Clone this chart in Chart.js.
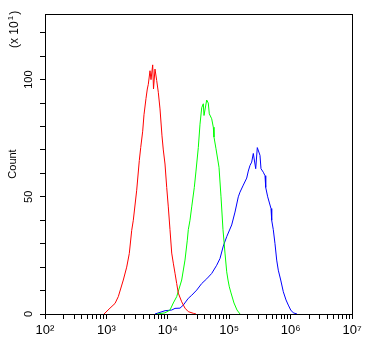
<!DOCTYPE html>
<html>
<head>
<meta charset="utf-8">
<script src="https://cdn.jsdelivr.net/npm/chart.js@4.4.0/dist/chart.umd.min.js"></script>
<style>
    html, body { margin: 0; padding: 0; background: #fff; }
    #chart-container { width: 372px; height: 344px; }
</style>
</head>
<body>
<div id="chart-container"><canvas id="myChart" width="372" height="344"></canvas></div>
<script>
// fluorescence intensity (x) and count in units of 10 (y)
const redX = [914, 1144, 1381, 1562, 1885, 2141, 2360, 2583, 2742, 3115, 3435, 3620, 3901, 4096, 4416, 4636, 4814, 5131, 5326, 5677, 5850, 6187, 6596, 7003, 7464, 8045, 8447, 9005, 9597, 10190, 10860, 11580, 12290, 13100, 13960, 14830, 16840, 19060, 21580, 26020, 28790];
const redY = [0, 2.5, 4.5, 7.4, 14.5, 20, 25.8, 35.7, 40, 52.8, 65.5, 71, 78, 85, 92, 96, 98, 103.8, 100, 106.3, 96, 104.5, 99.6, 94.6, 87.5, 76, 70, 64, 54, 45.7, 36, 26, 21.7, 17.4, 13, 8.9, 5.2, 2.5, 1, 0.3, 0];

const greenX = [6670, 9005, 10860, 12290, 13960, 16840, 19060, 20780, 21580, 22990, 24510, 27020, 28790, 31390, 33460, 35660, 37860, 38870, 43010, 45660, 47410, 51880, 55080, 56540, 60950, 68220, 73530, 79250, 85420, 91070, 95610, 100400, 107000, 119700, 134000, 149900];
const greenY = [0, 0.5, 1.7, 4.7, 7.4, 14.5, 23, 31.5, 36, 40, 45.7, 54, 61, 71, 81, 88, 89.7, 84.7, 91.3, 90, 85.4, 83.3, 79.7, 75.5, 70.5, 62.6, 50, 36, 26, 18, 14.5, 11.6, 9, 4.7, 1.7, 0];

const blueX = [6187, 9005, 11580, 13100, 15800, 17880, 21580, 24510, 29560, 35660, 43010, 51880, 62570, 70830, 80150, 91070, 109800, 124300, 140700, 149900, 169700, 192800, 204700, 218200, 232500, 246900, 270200, 286900, 317400, 329500, 359300, 383000, 393200, 423700, 479600, 492300, 522600, 557000, 593700, 630400, 690000, 760500, 841800, 917500, 1004000, 1107000, 1271000];
const blueY = [0, 1.4, 1.7, 2.4, 2.5, 3.8, 6.7, 8, 10.2, 13, 15, 17.3, 20.8, 23.7, 29, 33, 38, 43.5, 50, 52, 55, 58, 61, 63.4, 64.8, 68.5, 62, 71, 67.7, 62, 60.5, 59, 54, 50, 45, 40, 36, 30, 23, 18.7, 14.5, 9.5, 6, 3.8, 1.7, 0.5, 0];

const xMajorTicks = [1e2, 1e3, 1e4, 1e5, 1e6, 1e7];
const xTickLabels = ['10²', '10³', '10⁴', '10⁵', '10⁶', '10⁷'];
const yLabelledTicks = [0, 50, 100];

const fontFamily = '"Liberation Sans", Arial, sans-serif';

// every 1..9 x 10^n tick between the majors
const xAllTicks = [];
xMajorTicks.slice(0, -1).forEach(d => {
    for (let m = 1; m < 10; m++) xAllTicks.push(d * m);
});
xAllTicks.push(xMajorTicks[xMajorTicks.length - 1]);

function toPoints(xs, ys) {
    return xs.map((x, i) => ({ x: x, y: ys[i] }));
}

function makeSet(xs, ys, color) {
    return {
        data: toPoints(xs, ys),
        borderColor: color,
        borderWidth: 1,
        pointRadius: 0,
        showLine: true,
        tension: 0,
        fill: false
    };
}

// box round the plot and the (x10^1) multiplier note
const framePlugin = {
    id: 'frame',
    afterDraw(chart) {
        const { ctx, chartArea: a } = chart;
        ctx.save();
        ctx.strokeStyle = '#000';
        ctx.lineWidth = 1;
        ctx.strokeRect(Math.round(a.left) + 0.5, Math.round(a.top) + 0.5,
            Math.round(a.right - a.left), Math.round(a.bottom - a.top));

        ctx.translate(14, 48);
        ctx.rotate(-Math.PI / 2);
        ctx.fillStyle = '#000';
        ctx.textBaseline = 'middle';
        ctx.font = '12px ' + fontFamily;
        const base = '(x 10';
        ctx.fillText(base, 0, 1);
        let w = ctx.measureText(base).width;
        ctx.font = '8px ' + fontFamily;
        ctx.fillText('1', w + 1, -3);
        w += ctx.measureText('1').width + 2;
        ctx.font = '12px ' + fontFamily;
        ctx.fillText(')', w, 1);
        ctx.restore();
    }
};

const ctx = document.getElementById('myChart').getContext('2d');
const myChart = new Chart(ctx, {
    type: 'scatter',
    data: {
        datasets: [
            makeSet(redX, redY, '#ff0000'),
            makeSet(greenX, greenY, '#00ff00'),
            makeSet(blueX, blueY, '#0000ff')
        ]
    },
    options: {
        responsive: false,
        animation: false,
        layout: { padding: { top: 14, right: 20, left: 0, bottom: 0 } },
        plugins: { legend: { display: false }, tooltip: { enabled: false } },
        scales: {
            x: {
                type: 'logarithmic',
                min: 1e2,
                max: 1e7,
                afterBuildTicks: scale => {
                    scale.ticks = xAllTicks.map(v => ({ value: v }));
                },
                afterFit: scale => { scale.height = 30; },
                grid: { drawOnChartArea: false, tickLength: 5, color: '#000', tickColor: '#000' },
                border: { color: '#000' },
                ticks: {
                    autoSkip: false,
                    maxRotation: 0,
                    padding: 4,
                    color: '#000',
                    font: { family: fontFamily, size: 13 },
                    callback: value => {
                        const i = xMajorTicks.indexOf(value);
                        return i >= 0 ? xTickLabels[i] : '';
                    }
                }
            },
            y: {
                min: 0,
                max: 128,
                afterFit: scale => { scale.width = 45; },
                grid: { drawOnChartArea: false, tickLength: 5, color: '#000', tickColor: '#000' },
                border: { color: '#000' },
                ticks: {
                    stepSize: 10,
                    includeBounds: false,
                    minRotation: 90,
                    maxRotation: 90,
                    crossAlign: 'center',
                    padding: 2,
                    color: '#000',
                    font: { family: fontFamily, size: 11 },
                    callback: v => yLabelledTicks.includes(v) ? String(v) : ''
                },
                title: {
                    display: true,
                    text: 'Count',
                    color: '#000',
                    font: { family: fontFamily, size: 11 },
                    padding: { top: 6, bottom: 0 }
                }
            }
        }
    },
    plugins: [framePlugin]
});
</script>
</body>
</html>
